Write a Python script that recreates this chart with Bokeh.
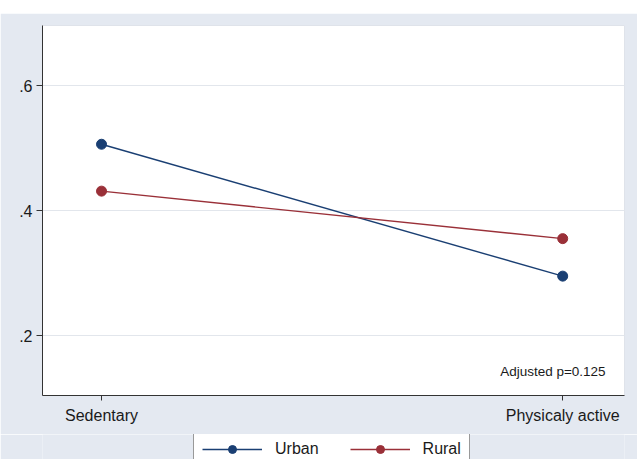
from bokeh.plotting import figure
from bokeh.models import Range1d, Legend, LegendItem, Label, Spacer, FixedTicker
from bokeh.layouts import column
from bokeh.embed import file_html
from bokeh.resources import INLINE

categories = ["Sedentary", "Physicaly active"]
x_pos = [0, 1]
urban = [0.506, 0.295]
rural = [0.431, 0.355]
y_ticks = [0.2, 0.4, 0.6]
y_tick_labels = [".2", ".4", ".6"]
note = "Adjusted p=0.125"

BG = "#e4e9f1"
NAVY = "#1a3f73"
MAROON = "#9a3038"
FONT = "Liberation Sans"

p = figure(width=637, height=421, x_range=Range1d(-0.128, 1.134), y_range=Range1d(0.104, 0.696),
           output_backend="svg", toolbar_location=None,
           min_border_left=42, min_border_top=12, min_border_right=13, min_border_bottom=39)
p.background_fill_color = "white"
p.border_fill_color = BG
p.outline_line_color = "#dfe3ea"

p.line(x_pos, urban, line_color=NAVY, line_width=1.4)
p.scatter(x_pos, urban, size=10, fill_color=NAVY, line_color=NAVY)
p.line(x_pos, rural, line_color=MAROON, line_width=1.4)
p.scatter(x_pos, rural, size=10, fill_color=MAROON, line_color=MAROON)

p.xaxis.ticker = FixedTicker(ticks=x_pos)
p.xaxis.major_label_overrides = {x: c for x, c in zip(x_pos, categories)}
p.yaxis.ticker = FixedTicker(ticks=y_ticks)
p.yaxis.major_label_overrides = {t: l for t, l in zip(y_ticks, y_tick_labels)}

for ax in (p.xaxis, p.yaxis):
    ax.axis_line_color = "#333333"
    ax.major_tick_line_color = "#333333"
    ax.minor_tick_line_color = None
    ax.major_tick_in = 0
    ax.major_label_text_font = FONT
    ax.major_label_text_font_size = "16px"
    ax.major_label_text_color = "#1a1a1a"
p.xaxis.major_tick_out = 5
p.yaxis.major_tick_out = 6
p.xaxis.major_label_standoff = 6
p.yaxis.major_label_standoff = 4

p.xgrid.grid_line_color = None
p.ygrid.ticker = FixedTicker(ticks=y_ticks)
p.ygrid.grid_line_color = "#e2e6ec"
p.ygrid.grid_line_width = 1.2

p.add_layout(Label(x=1.093, y=0.1424, text=note, text_align="right", text_baseline="middle",
                   text_font=FONT, text_font_size="13.5px", text_color="#1a1a1a"))

# legend strip: its own renderers (same data, outside the strip's ranges) feed the legend
lg = figure(width=637, height=25, x_range=Range1d(10, 11), y_range=Range1d(10, 11),
            output_backend="svg", toolbar_location=None, x_axis_location=None, y_axis_location=None,
            min_border=0, min_border_left=0, min_border_right=0, min_border_top=0, min_border_bottom=0)
lg.grid.visible = False
lg.outline_line_color = None
lg.background_fill_color = BG
lg.border_fill_color = BG
lu_l = lg.line(x_pos, urban, line_color=NAVY, line_width=1.4)
lu_s = lg.scatter(x_pos, urban, size=10, fill_color=NAVY, line_color=NAVY)
lr_l = lg.line(x_pos, rural, line_color=MAROON, line_width=1.4)
lr_s = lg.scatter(x_pos, rural, size=10, fill_color=MAROON, line_color=MAROON)

legend = Legend(items=[LegendItem(label="Urban", renderers=[lu_l, lu_s]),
                       LegendItem(label="Rural", renderers=[lr_l, lr_s])],
                orientation="horizontal", location=(151, -9))
legend.label_text_font = FONT
legend.label_text_font_size = "16px"
legend.label_text_color = "#1a1a1a"
legend.glyph_width = 60
legend.label_standoff = 13
legend.spacing = 31
legend.padding = 8
legend.margin = 0
legend.border_line_color = "#333333"
legend.border_line_width = 1
legend.background_fill_color = "white"
legend.background_fill_alpha = 1
lg.add_layout(legend, "center")

layout = column(Spacer(width=637, height=13), p, lg)
open("out.html", "w").write(file_html(layout, INLINE))
